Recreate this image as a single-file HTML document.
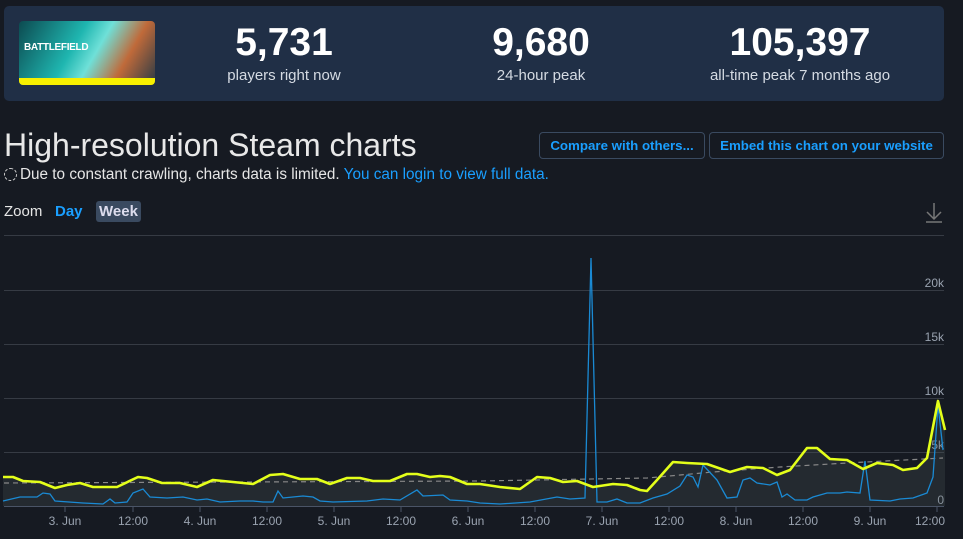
<!DOCTYPE html>
<html><head><meta charset="utf-8"><style>
body{margin:0;width:963px;height:539px;background:#161a22;font-family:"Liberation Sans",sans-serif;overflow:hidden;position:relative;color:#e6e6e6}
.panel{position:absolute;left:4px;top:6px;width:940px;height:95px;background:#202f46;border-radius:5px}
.img{position:absolute;left:19px;top:21px;width:136px;height:64px;border-radius:4px;background:linear-gradient(120deg,#0c4a50,#1fb6b0 40%,#6fe0d8 55%,#c06a3a 75%,#2a3a45);overflow:hidden}
.img .bar{position:absolute;left:0;bottom:0;width:100%;height:7px;background:#f7f000}
.img .t{position:absolute;left:5px;top:21px;font-size:10px;font-weight:bold;color:#fff;letter-spacing:-0.3px}
.stat{position:absolute;top:23px;text-align:center;width:260px}
.stat b{display:block;font-size:39px;color:#fff;line-height:40px}
.stat span{display:block;margin-top:4px;font-size:15px;color:#d5dbe3}
h1{position:absolute;left:4px;top:127px;margin:0;font-weight:normal;font-size:32px;color:#e8e8e8}
.note{position:absolute;left:4px;top:166px;font-size:15.3px}
.note a{color:#1a9fff}
.btn{position:absolute;top:132px;height:25px;border:1px solid #3a4a60;border-radius:4px;color:#1a9fff;font-weight:bold;font-size:13.3px;line-height:25px;text-align:center}
.zoom{position:absolute;top:203px;font-size:15px}
</style></head><body>
<div class="panel"></div>
<div class="img"><div class="t">BATTLEFIELD</div><div class="bar"></div></div>
<div class="stat" style="left:154px"><b>5,731</b><span>players right now</span></div>
<div class="stat" style="left:411px"><b>9,680</b><span>24-hour peak</span></div>
<div class="stat" style="left:670px"><b>105,397</b><span>all-time peak 7 months ago</span></div>
<h1>High-resolution Steam charts</h1>
<div class="note"><span style="display:inline-block;width:11px;height:11px;border:1.5px dashed #ccc;border-radius:50%;vertical-align:-2px;margin-right:3px"></span>Due to constant crawling, charts data is limited. <a>You can login to view full data.</a></div>
<div class="btn" style="left:539px;width:164px">Compare with others...</div>
<div class="btn" style="left:709px;width:233px">Embed this chart on your website</div>
<div class="zoom" style="left:4px">Zoom</div>
<div class="zoom" style="left:55px;color:#1a9fff;font-weight:bold">Day</div>
<div class="zoom" style="left:96px;top:201px;padding:2px 3px;background:#3a4a60;border-radius:3px;font-weight:bold;color:#dde">Week</div>
<svg width="963" height="539" style="position:absolute;left:0;top:0">
<g stroke="#777" stroke-width="1.5" fill="none"><path d="M934 203v16M927 212l7 7 7-7M926 222h16"/></g>
<g stroke="#363b44" stroke-width="1"><path d="M4 235.5H944M4 290.5H944M4 344.5H944M4 398.5H944M4 452.5H944"/></g>
<path d="M4 506.5H944" stroke="#4a5466"/>
<g stroke="#4a5466"><path d="M65 506v6M133 506v6M200 506v6M267 506v6M334 506v6M401 506v6M468 506v6M535 506v6M602 506v6M669 506v6M736 506v6M803 506v6M870 506v6M937 506v6"/></g>
<g fill="#9aa3b0" font-size="12" text-anchor="middle"><text x="65" y="525">3. Jun</text><text x="133" y="525">12:00</text><text x="200" y="525">4. Jun</text><text x="267" y="525">12:00</text><text x="334" y="525">5. Jun</text><text x="401" y="525">12:00</text><text x="468" y="525">6. Jun</text><text x="535" y="525">12:00</text><text x="602" y="525">7. Jun</text><text x="669" y="525">12:00</text><text x="736" y="525">8. Jun</text><text x="803" y="525">12:00</text><text x="870" y="525">9. Jun</text><text x="930" y="525">12:00</text></g>
<g fill="#9aa3b0" font-size="12" text-anchor="end"><text x="944" y="287">20k</text><text x="944" y="341">15k</text><text x="944" y="395">10k</text><text x="944" y="449">5k</text><text x="944" y="504">0</text></g>
<polygon fill="rgba(80,90,90,0.25)" points="3,477 13,477 23,481 40,482 55,488 67,485 80,483 93,487 117,487 138,477 147,478 162,483 180,483 197,487 213,480 233,482 253,484 270,475 283,474 300,479 317,479 330,484 347,478 360,478 373,481 390,481 407,474 417,474 430,477 440,476 450,477 467,484 480,484 500,487 520,489 537,477 550,478 563,482 577,481 593,487 613,484 627,485 640,490 647,491 657,480 673,462 687,463 707,464 730,472 747,467 763,468 777,475 790,470 807,448 817,448 830,459 847,460 863,469 877,463 893,465 903,470 917,468 927,458 938,401 945,430 945,506 3,506"/>
<polyline fill="none" stroke="#888" stroke-width="1.2" stroke-dasharray="5,4" points="4,483 480,481 647,478 713,472 780,467 847,463 943,458"/>
<polyline fill="none" stroke="#1a8ad4" stroke-width="1.3" points="3,501 20,497 37,497 43,493 50,494 55,501 83,503 103,504 110,499 115,503 127,502 133,493 143,489 150,497 167,498 183,497 197,500 207,499 220,502 240,501 253,501 263,502 273,502 278,491 283,498 303,496 313,497 320,501 333,502 367,501 383,499 400,500 417,490 423,496 443,495 450,500 467,501 480,503 500,504 530,502 557,497 570,499 585,498 591,258 597,502 607,502 617,499 627,503 640,503 653,498 667,494 680,486 687,475 693,477 698,487 703,465 717,480 727,498 737,497 743,480 750,478 757,483 770,485 777,482 782,497 787,494 795,500 807,500 813,497 827,493 840,493 847,492 860,493 865,461 870,500 890,501 900,499 913,498 927,493 933,477 938,405 943,450"/>
<polyline fill="none" stroke="#e4ff1a" stroke-width="2.6" stroke-linejoin="round" points="3,477 13,477 23,481 40,482 55,488 67,485 80,483 93,487 117,487 138,477 147,478 162,483 180,483 197,487 213,480 233,482 253,484 270,475 283,474 300,479 317,479 330,484 347,478 360,478 373,481 390,481 407,474 417,474 430,477 440,476 450,477 467,484 480,484 500,487 520,489 537,477 550,478 563,482 577,481 593,487 613,484 627,485 640,490 647,491 657,480 673,462 687,463 707,464 730,472 747,467 763,468 777,475 790,470 807,448 817,448 830,459 847,460 863,469 877,463 893,465 903,470 917,468 927,458 938,401 945,430"/>
</svg>
</body></html>
